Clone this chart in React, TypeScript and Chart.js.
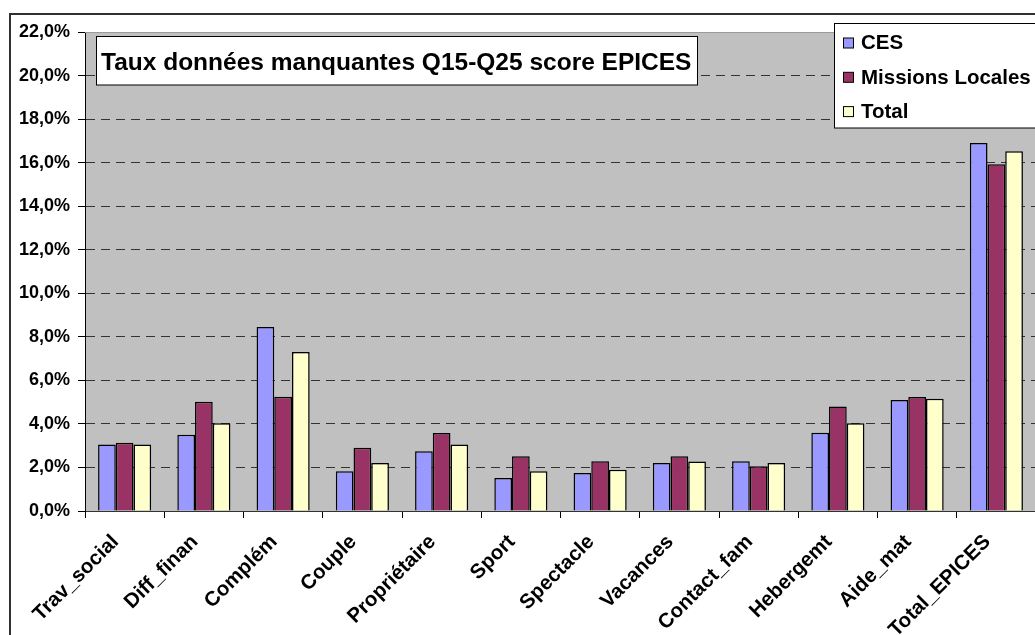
import React, { useEffect, useRef } from "react";
import { Chart, registerables } from "chart.js";

Chart.register(...registerables);

const categories = [
  "Trav_social",
  "Diff_finan",
  "Complém",
  "Couple",
  "Propriétaire",
  "Sport",
  "Spectacle",
  "Vacances",
  "Contact_fam",
  "Hebergemt",
  "Aide_mat",
  "Total_EPICES",
];
const cesValues = [3.05, 3.5, 8.45, 1.82, 2.74, 1.52, 1.75, 2.2, 2.28, 3.59, 5.1, 16.9];
const missionsValues = [3.13, 5.02, 5.25, 2.9, 3.58, 2.52, 2.28, 2.52, 2.05, 4.8, 5.24, 15.93];
const totalValues = [3.05, 4.03, 7.3, 2.21, 3.05, 1.82, 1.9, 2.27, 2.21, 4.03, 5.16, 16.52];
const seriesLabels = ["CES", "Missions Locales", "Total"];
const seriesColors = ["#9999FF", "#993366", "#FFFFCC"];
const yMin = 0;
const yMax = 22;
const yStep = 2;
const titleText = "Taux données manquantes Q15-Q25 score EPICES";

const FONT = "'Liberation Sans', Arial, sans-serif";

const decorPlugin = {
  id: "decor",
  beforeDraw(chart: any) {
    const { ctx, chartArea: a } = chart;
    ctx.save();
    ctx.fillStyle = "#C0C0C0";
    ctx.fillRect(a.left, a.top, a.right - a.left, a.bottom - a.top);
    ctx.restore();
  },
  afterDraw(chart: any) {
    const { ctx, chartArea: a } = chart;
    ctx.save();
    // plot top edge
    ctx.strokeStyle = "#9a9a9a";
    ctx.lineWidth = 1;
    ctx.beginPath();
    ctx.moveTo(a.left, Math.round(a.top) + 0.5);
    ctx.lineTo(a.right, Math.round(a.top) + 0.5);
    ctx.stroke();
    // outer chart border
    ctx.strokeStyle = "#303030";
    ctx.lineWidth = 2;
    ctx.strokeRect(10, 14, 3000, 3000);
    // title box
    ctx.fillStyle = "#FFFFFF";
    ctx.fillRect(96.5, 36.5, 601, 48.5);
    ctx.strokeStyle = "#000";
    ctx.lineWidth = 1;
    ctx.strokeRect(96.5, 36.5, 601, 48.5);
    ctx.fillStyle = "#000";
    ctx.font = `bold 24.5px ${FONT}`;
    ctx.textAlign = "left";
    ctx.textBaseline = "alphabetic";
    ctx.fillText(titleText, 101, 69.5);
    // legend box
    ctx.fillStyle = "#FFFFFF";
    ctx.fillRect(834.5, 23.5, 300, 104.5);
    ctx.strokeRect(834.5, 23.5, 300, 104.5);
    ctx.font = `bold 20.5px ${FONT}`;
    chart.data.datasets.forEach((ds: any, i: number) => {
      const cy = 43.5 + i * 34.3;
      ctx.fillStyle = ds.backgroundColor;
      ctx.fillRect(843.5, cy - 5.5, 10, 10);
      ctx.strokeStyle = "#000";
      ctx.strokeRect(843.5, cy - 5.5, 10, 10);
      ctx.fillStyle = "#000";
      ctx.fillText(ds.label, 861, cy + 5.8);
    });
    ctx.restore();
  },
};

export default function App() {
  const ref = useRef<HTMLCanvasElement | null>(null);

  useEffect(() => {
    if (!ref.current) return;
    const data = [cesValues, missionsValues, totalValues];
    const chart = new Chart(ref.current, {
      type: "bar",
      data: {
        labels: categories,
        datasets: seriesLabels.map((label, i) => ({
          label,
          data: data[i],
          backgroundColor: seriesColors[i],
          borderColor: "#000",
          borderWidth: 1.5,
          categoryPercentage: 0.67,
          barPercentage: 1,
        })),
      },
      options: {
        responsive: false,
        animation: false,
        devicePixelRatio: 1,
        layout: { padding: { left: 0, top: 32, right: 10, bottom: 0 } },
        plugins: {
          legend: { display: false },
          title: { display: false },
          tooltip: { enabled: false },
        },
        scales: {
          x: {
            afterFit(scale: any) {
              scale.height = 124;
            },
            grid: {
              display: true,
              drawOnChartArea: false,
              drawTicks: true,
              tickLength: 7,
              color: "#000",
              offset: true,
            },
            border: { display: true, color: "#333", width: 1 },
            ticks: {
              autoSkip: false,
              minRotation: 45,
              maxRotation: 45,
              color: "#000",
              padding: 12,
              labelOffset: -9,
              font: { family: FONT, weight: "bold", size: 20.5 },
            },
          },
          y: {
            min: yMin,
            max: yMax,
            afterFit(scale: any) {
              scale.width = 85;
            },
            grid: {
              color: (c: any) =>
                c.tick && (c.tick.value === yMin || c.tick.value === yMax) ? "rgba(0,0,0,0)" : "#333",
              tickColor: "#000",
              tickLength: 7,
              tickBorderDash: [],
              lineWidth: 1,
            },
            border: { display: true, color: "#000", width: 1, dash: [9, 6] },
            ticks: {
              stepSize: yStep,
              color: "#000",
              padding: 8,
              font: { family: FONT, weight: "bold", size: 18 },
              callback: (v: any) => Number(v).toFixed(1).replace(".", ",") + "%",
            },
          },
        },
      },
      plugins: [decorPlugin],
    });
    return () => chart.destroy();
  }, []);

  return (
    <div
      style={{
        position: "fixed",
        left: 0,
        top: 0,
        width: 1035,
        height: 635,
        overflow: "hidden",
        background: "#fff",
      }}
    >
      <canvas ref={ref} width={1046} height={635} style={{ display: "block" }} />
    </div>
  );
}
